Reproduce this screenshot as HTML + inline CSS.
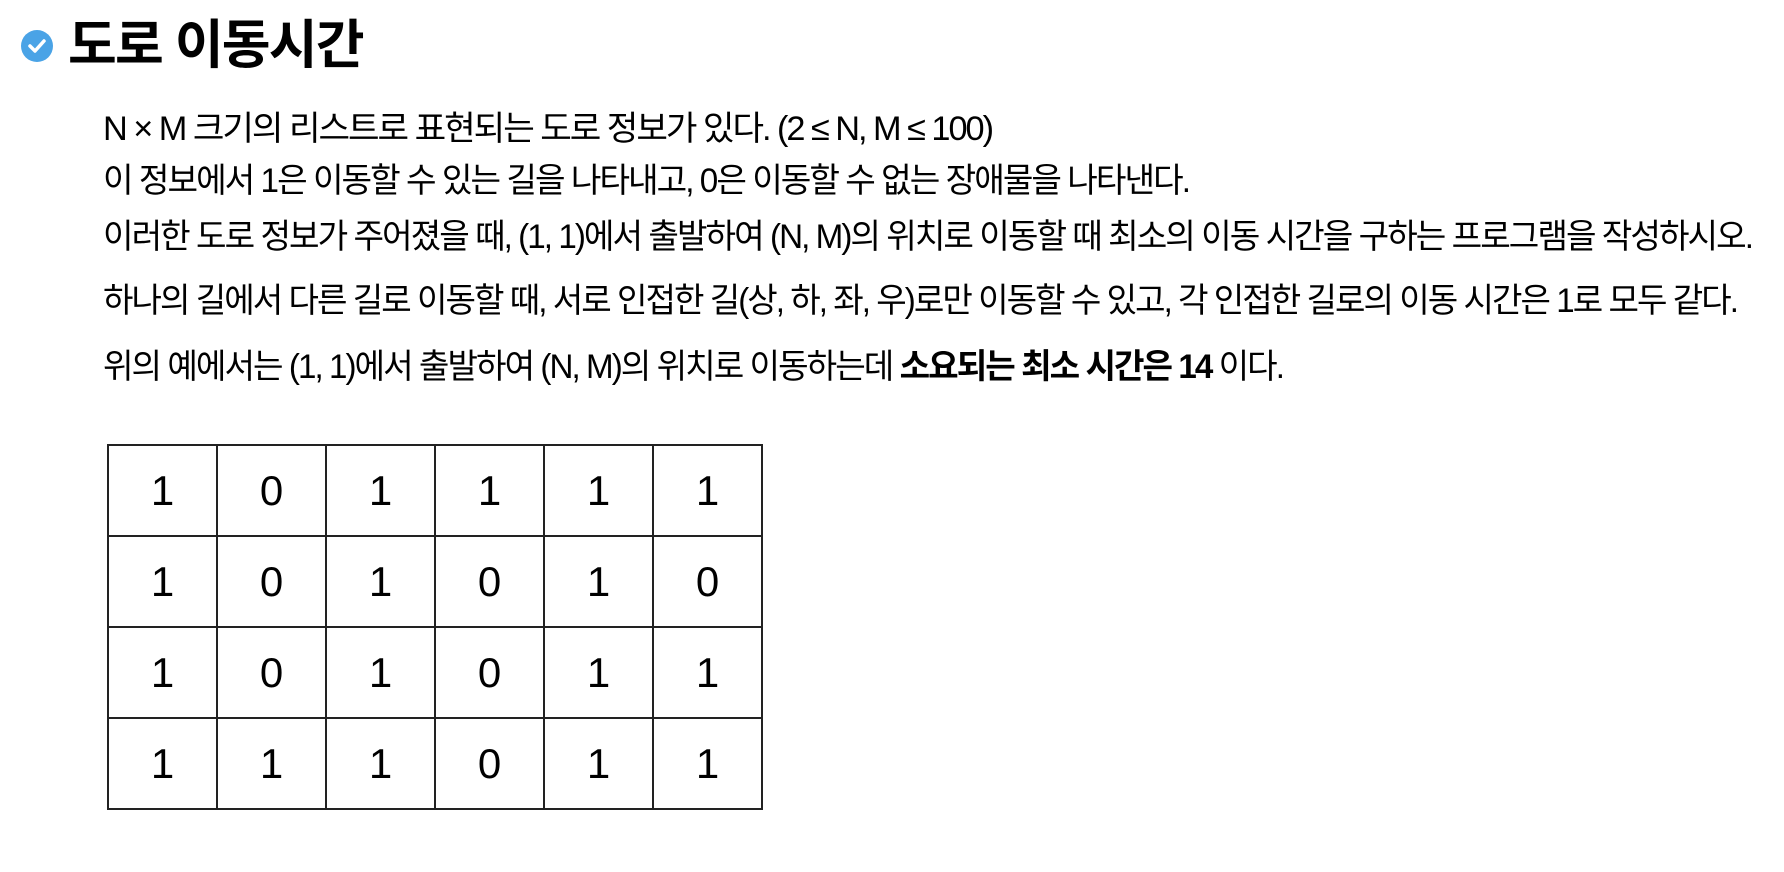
<!DOCTYPE html>
<html><head><meta charset="utf-8">
<style>
html,body{margin:0;padding:0;background:#fff;width:1784px;height:872px;overflow:hidden}
body{position:relative;font-family:"Liberation Sans","Noto Sans CJK KR",sans-serif;color:#000}
.icon{position:absolute;left:21px;top:30px;width:32px;height:32px;border-radius:50%;background:#4aa3e6}
.title{position:absolute;left:68px;top:14px;font-size:53px;font-weight:700;letter-spacing:-1.8px;white-space:nowrap;line-height:64px}
.line{position:absolute;left:103px;font-size:34px;white-space:nowrap;line-height:40px;transform-origin:0 50%;letter-spacing:-2px}
table{position:absolute;left:107px;top:444px;border-collapse:collapse}
td{width:107px;height:89px;border:2px solid #222;text-align:center;font-size:42px;font-family:"Liberation Sans",sans-serif;padding:0}
</style></head><body>
<div class="icon"><svg width="32" height="32"><path d="M9 16 L14 21 L23 11" stroke="#fff" stroke-width="3.5" fill="none" stroke-linecap="round" stroke-linejoin="round"/></svg></div>
<div class="title">도로 이동시간</div>
<div class="line" data-w="889" style="top:109px">N × M 크기의 리스트로 표현되는 도로 정보가 있다. (2 ≤ N, M ≤ 100)</div>
<div class="line" data-w="1086" style="top:161px">이 정보에서 1은 이동할 수 있는 길을 나타내고, 0은 이동할 수 없는 장애물을 나타낸다.</div>
<div class="line" data-w="1649" style="top:217px">이러한 도로 정보가 주어졌을 때, (1, 1)에서 출발하여 (N, M)의 위치로 이동할 때 최소의 이동 시간을 구하는 프로그램을 작성하시오.</div>
<div class="line" data-w="1634" style="top:281px">하나의 길에서 다른 길로 이동할 때, 서로 인접한 길(상, 하, 좌, 우)로만 이동할 수 있고, 각 인접한 길로의 이동 시간은 1로 모두 같다.</div>
<div class="line" data-w="1180" style="top:347px">위의 예에서는 (1, 1)에서 출발하여 (N, M)의 위치로 이동하는데 <b>소요되는 최소 시간은 14</b> 이다.</div>
<table>
<tr><td>1</td><td>0</td><td>1</td><td>1</td><td>1</td><td>1</td></tr>
<tr><td>1</td><td>0</td><td>1</td><td>0</td><td>1</td><td>0</td></tr>
<tr><td>1</td><td>0</td><td>1</td><td>0</td><td>1</td><td>1</td></tr>
<tr><td>1</td><td>1</td><td>1</td><td>0</td><td>1</td><td>1</td></tr>
</table>
<script>
document.querySelectorAll('.line').forEach(function(el){
  var w=el.getBoundingClientRect().width, t=+el.getAttribute('data-w');
  if(w>0) el.style.transform='scaleX('+(t/w)+')';
});
</script>
</body></html>
